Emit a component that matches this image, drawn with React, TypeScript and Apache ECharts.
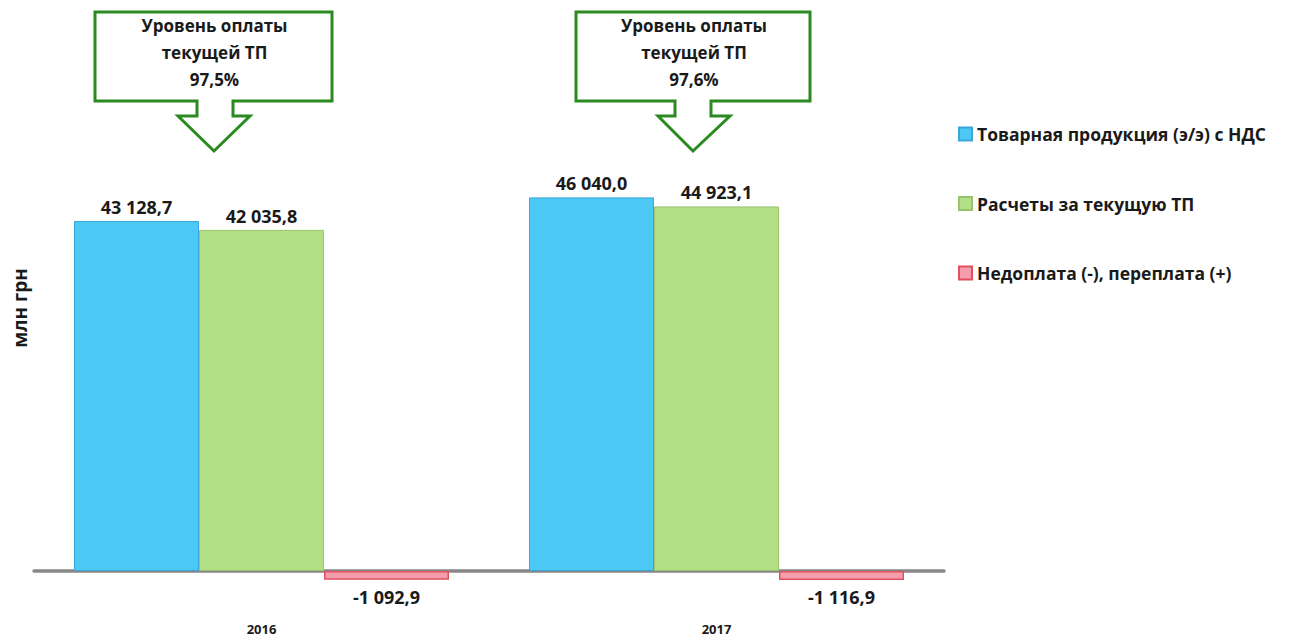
import React, { useEffect, useRef } from "react";
import * as echarts from "echarts";

const categories = ["2016", "2017"];
const seriesNames = [
  "Товарная продукция (э/э) с НДС",
  "Расчеты за текущую ТП",
  "Недоплата (-), переплата (+)",
];
const productValues = [43128.7, 46040.0];
const paymentValues = [42035.8, 44923.1];
const balanceValues = [-1092.9, -1116.9];
const paymentLevels = ["97,5%", "97,6%"];
const yAxisName = "млн грн";

const FONT = "'Open Sans', 'Noto Sans', sans-serif";

function fmt(v: number): string {
  const neg = v < 0;
  const s = Math.abs(v).toFixed(1);
  const [i, d] = s.split(".");
  const grouped = i.replace(/\B(?=(\d{3})+(?!\d))/g, " ");
  return (neg ? "-" : "") + grouped + "," + d;
}

function callout(left: number, right: number, stemL: number, stemR: number, headL: number, headR: number, tipX: number, text: string) {
  const top = 12, bottom = 101, stemB = 116, tipY = 151;
  return [
    {
      type: "polygon",
      shape: {
        points: [
          [left, top], [right, top], [right, bottom], [stemR, bottom], [stemR, stemB],
          [headR, stemB], [tipX, tipY], [headL, stemB], [stemL, stemB], [stemL, bottom], [left, bottom],
        ],
      },
      style: { fill: "#ffffff", stroke: "#2B8A1F", lineWidth: 3, lineJoin: "miter" },
    },
    {
      type: "text",
      x: (left + right) / 2 + 1,
      y: 52,
      style: {
        text: text,
        fill: "#1a1a1a",
        font: `bold 17px ${FONT}`,
        lineHeight: 27,
        align: "center",
        verticalAlign: "middle",
      },
    },
  ];
}

export default function App() {
  const ref = useRef<HTMLDivElement>(null);
  useEffect(() => {
    if (!ref.current) return;
    const chart = echarts.init(ref.current, undefined, { renderer: "svg" });
    const labelStyle = {
      show: true,
      fontFamily: FONT,
      fontWeight: "bold",
      fontSize: 18,
      color: "#1a1a1a",
      formatter: (p: any) => fmt(p.value),
    };
    chart.setOption({
      animation: false,
      backgroundColor: "#ffffff",
      grid: { left: 34, right: 345, top: 84.1, bottom: 51.8, containLabel: false, outerBoundsMode: "none" },
      legend: {
        orient: "vertical",
        left: 958,
        top: 122,
        padding: 0,
        itemWidth: 13,
        itemHeight: 13,
        itemGap: 45.5,
        icon: "rect",
        textStyle: { fontFamily: FONT, fontWeight: "bold", fontSize: 17.5, color: "#1a1a1a", lineHeight: 24 },
        data: seriesNames,
      },
      xAxis: {
        type: "category",
        data: categories,
        axisLine: { show: true, onZero: true, lineStyle: { color: "#878787", width: 3.5 } },
        axisTick: { show: false },
        axisLabel: { margin: 36, lineHeight: 12, fontFamily: FONT, fontWeight: "bold", fontSize: 13, color: "#1a1a1a" },
      },
      yAxis: {
        type: "value",
        min: -2000,
        max: 60000,
        show: false,
        splitLine: { show: false },
      },
      series: [
        {
          name: seriesNames[0],
          type: "bar",
          data: productValues,
          barWidth: 125,
          barGap: "0%",
          itemStyle: { color: "#4CC8F4", borderColor: "#3AA6DA", borderWidth: 1 },
          label: { ...labelStyle, position: "top", distance: 5 },
        },
        {
          name: seriesNames[1],
          type: "bar",
          data: paymentValues,
          barWidth: 125,
          barGap: "0%",
          itemStyle: { color: "#B3DF86", borderColor: "#98C46E", borderWidth: 1 },
          label: { ...labelStyle, position: "top", distance: 5 },
        },
        {
          name: seriesNames[2],
          type: "bar",
          data: balanceValues,
          barWidth: 125,
          barGap: "0%",
          itemStyle: { color: "#F49DAD", borderColor: "#E2505F", borderWidth: 1.5 },
          label: { ...labelStyle, position: "bottom", distance: 8 },
        },
      ],
      graphic: [
        ...callout(95, 332, 197, 233, 178, 250, 214, `Уровень оплаты\nтекущей ТП\n${paymentLevels[0]}`),
        ...callout(576, 810, 675, 711, 658, 730, 693, `Уровень оплаты\nтекущей ТП\n${paymentLevels[1]}`),
        {
          type: "text",
          x: 20,
          y: 308,
          rotation: Math.PI / 2,
          style: {
            text: yAxisName,
            fill: "#1a1a1a",
            font: `bold 19px ${FONT}`,
            align: "center",
            verticalAlign: "middle",
          },
        },
      ],
    });
    return () => chart.dispose();
  }, []);
  return <div ref={ref} style={{ position: "fixed", left: 0, top: 0, width: 1289, height: 639 }} />;
}
